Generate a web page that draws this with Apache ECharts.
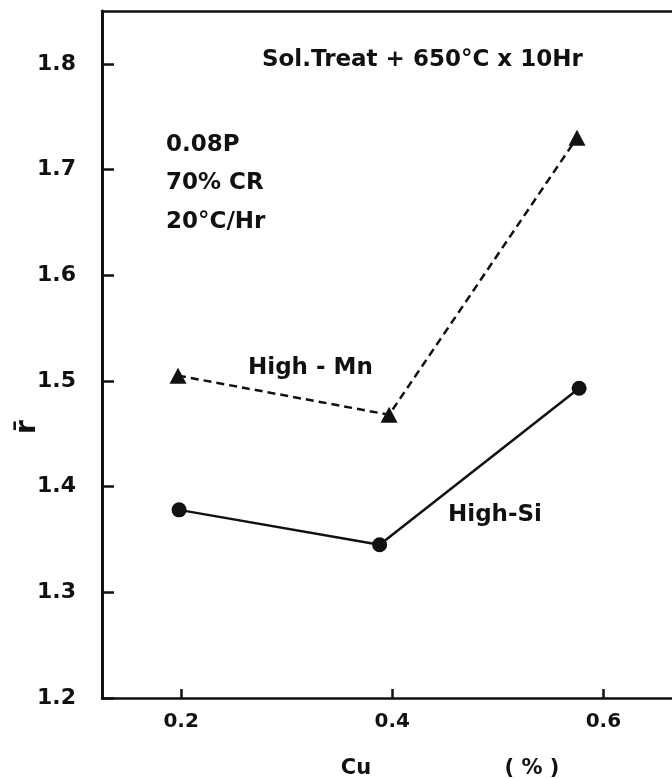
<!DOCTYPE html>
<html>
<head>
<meta charset="utf-8">
<script src="https://cdn.jsdelivr.net/npm/echarts@6/dist/echarts.min.js"></script>
<style>html,body{margin:0;padding:0;background:#fff}#c{width:672px;height:779px}</style>
</head>
<body>
<div id="c"></div>
<script>
// Data
const cuHighMn = [0.197, 0.397, 0.575];
const rHighMn  = [1.505, 1.468, 1.730];
const cuHighSi = [0.198, 0.388, 0.577];
const rHighSi  = [1.378, 1.345, 1.493];
const xTickValues = [0.2, 0.4, 0.6];
const xTickLabels = ['0.2', '0.4', '0.6'];
const yTickValues = [1.2, 1.3, 1.4, 1.5, 1.6, 1.7, 1.8];
const yTickLabels = ['1.2', '1.3', '1.4', '1.5', '1.6', '1.7', '1.8'];
const seriesNames = ['High - Mn', 'High-Si'];

const FONT = 'DejaVu Sans';
const ink = '#111';
const annFont = 'bold 23px "DejaVu Sans"';

const chart = echarts.init(document.getElementById('c'), null, {renderer: 'canvas'});
const pairs = (xs, ys) => xs.map((x, i) => [x, ys[i]]);
const labelFor = (vals, labs) => v => {
  const i = vals.findIndex(t => Math.abs(t - v) < 1e-6);
  return i >= 0 ? labs[i] : '';
};

chart.setOption({
  animation: false,
  backgroundColor: '#fff',
  grid: {left: 102, right: 0, top: 11, bottom: 81},
  xAxis: [{
    type: 'value', min: 0.125, max: 0.665, position: 'bottom',
    splitLine: {show: false},
    axisLine: {show: true, onZero: false, lineStyle: {color: ink, width: 2.5}},
    axisTick: {show: true, inside: true, length: 9, lineStyle: {color: ink, width: 2.5}, customValues: xTickValues},
    axisLabel: {show: true, margin: 14, color: ink, fontFamily: FONT, fontWeight: 'bold', fontSize: 20,
      customValues: xTickValues, formatter: labelFor(xTickValues, xTickLabels)}
  }, {
    type: 'value', min: 0.125, max: 0.665, position: 'top',
    splitLine: {show: false},
    axisLine: {show: true, onZero: false, lineStyle: {color: ink, width: 2.5}},
    axisTick: {show: false}, axisLabel: {show: false}
  }],
  yAxis: {
    type: 'value', min: 1.2, max: 1.85,
    splitLine: {show: false},
    axisLine: {show: true, onZero: false, lineStyle: {color: ink, width: 3}},
    axisTick: {show: true, inside: true, length: 12, lineStyle: {color: ink, width: 2.5}, customValues: yTickValues},
    axisLabel: {show: true, margin: 26, color: ink, fontFamily: FONT, fontWeight: 'bold', fontSize: 22,
      customValues: yTickValues, formatter: labelFor(yTickValues, yTickLabels)}
  },
  series: [{
    name: seriesNames[0], type: 'line', xAxisIndex: 0,
    data: pairs(cuHighMn, rHighMn),
    symbol: 'triangle', symbolSize: [17, 16],
    itemStyle: {color: ink},
    lineStyle: {color: ink, width: 2.5, type: [8, 5]}
  }, {
    name: seriesNames[1], type: 'line', xAxisIndex: 0,
    data: pairs(cuHighSi, rHighSi),
    symbol: 'circle', symbolSize: 15,
    itemStyle: {color: ink},
    lineStyle: {color: ink, width: 2.5}
  }],
  graphic: [
    {type: 'text', x: 262, y: 60, style: {text: 'Sol.Treat + 650°C x 10Hr', font: annFont, fill: ink, align: 'left', verticalAlign: 'middle'}},
    {type: 'text', x: 166, y: 145, style: {text: '0.08P', font: annFont, fill: ink, align: 'left', verticalAlign: 'middle'}},
    {type: 'text', x: 166, y: 183, style: {text: '70% CR', font: annFont, fill: ink, align: 'left', verticalAlign: 'middle'}},
    {type: 'text', x: 166, y: 222, style: {text: '20°C/Hr', font: annFont, fill: ink, align: 'left', verticalAlign: 'middle'}},
    {type: 'text', x: 248, y: 368, style: {text: seriesNames[0], font: annFont, fill: ink, align: 'left', verticalAlign: 'middle'}},
    {type: 'text', x: 448, y: 515, style: {text: seriesNames[1], font: annFont, fill: ink, align: 'left', verticalAlign: 'middle'}},
    {type: 'text', x: 356, y: 769, style: {text: 'Cu', font: 'bold 21px "DejaVu Sans"', fill: ink, align: 'center', verticalAlign: 'middle'}},
    {type: 'text', x: 532, y: 769, style: {text: '( % )', font: 'bold 21px "DejaVu Sans"', fill: ink, align: 'center', verticalAlign: 'middle'}},
    {type: 'text', x: 28, y: 427, rotation: Math.PI / 2, style: {text: 'r\u0304', font: 'bold 28px "DejaVu Sans"', fill: ink, align: 'center', verticalAlign: 'middle'}}
  ]
});
</script>
</body>
</html>
